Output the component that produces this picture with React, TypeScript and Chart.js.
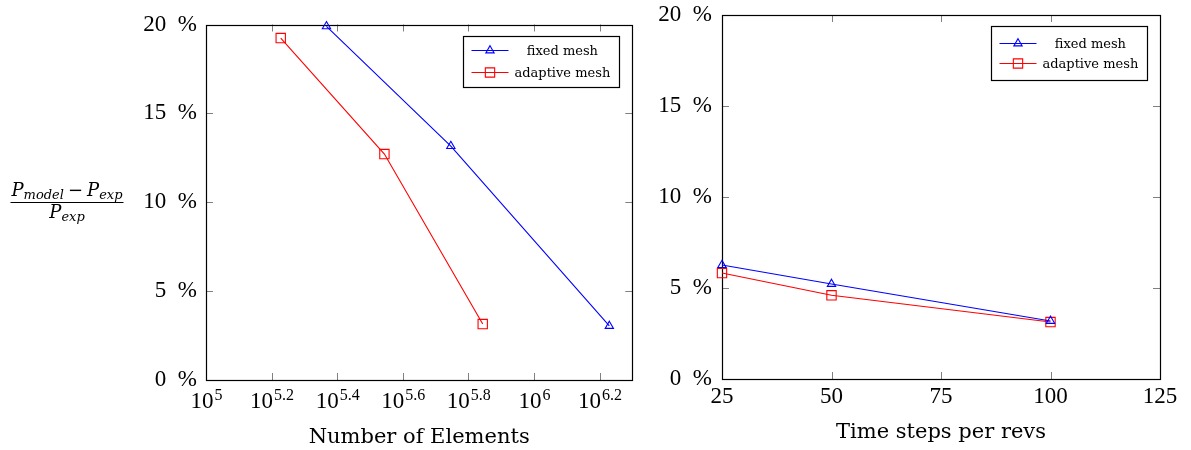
import React, { useEffect, useRef } from 'react';
import { Chart, registerables } from 'chart.js';

Chart.register(...registerables);

// ---------------- data ----------------
const seriesLabels = ['fixed mesh', 'adaptive mesh'];
const xTitles = ['Number of Elements', 'Time steps per revs'];

// left chart: error vs number of elements (log x axis)
const elementTickExponents = [5, 5.2, 5.4, 5.6, 5.8, 6, 6.2];
const elementTickLabels = ['5', '5.2', '5.4', '5.6', '5.8', '6', '6.2'];
const fixedMeshElements = [233000, 558000, 1698000];
const fixedMeshElementErrors = [19.9, 13.16, 3.04];
const adaptiveMeshElements = [169000, 350000, 698000];
const adaptiveMeshElementErrors = [19.24, 12.71, 3.15];

// right chart: error vs time steps per revolution
const timeSteps = [25, 50, 100];
const fixedMeshTimeErrors = [6.26, 5.22, 3.19];
const adaptiveMeshTimeErrors = [5.82, 4.6, 3.13];
const timeTicks = [25, 50, 75, 100, 125];

const errorTicks = [0, 5, 10, 15, 20];

// ---------------- style ----------------
const SERIF = '"DejaVu Serif", "Liberation Serif", serif';
const NUM = '"Liberation Serif", "DejaVu Serif", serif';
const BLUE = '#0000ff';
const RED = '#ff0000';
const CLEAR = 'rgba(0,0,0,0)';

function drawMarker(ctx: CanvasRenderingContext2D, style: string, x: number, y: number, r: number) {
  ctx.beginPath();
  if (style === 'triangle') {
    const s = Math.sin((2 * Math.PI) / 3) * r;
    ctx.moveTo(x, y - r);
    ctx.lineTo(x + s, y + r / 2);
    ctx.lineTo(x - s, y + r / 2);
    ctx.closePath();
  } else {
    const s = r * Math.SQRT1_2;
    ctx.rect(x - s, y - s, 2 * s, 2 * s);
  }
  ctx.stroke();
}

const frameAndTicks = {
  id: 'frameAndTicks',
  beforeDatasetsDraw(chart: any) {
    const { ctx, chartArea: a, scales } = chart;
    const L = 7;
    ctx.save();
    ctx.strokeStyle = '#808080';
    ctx.lineWidth = 1;
    ctx.beginPath();
    scales.x.ticks.forEach((t: any) => {
      const p = Math.round(scales.x.getPixelForValue(t.value)) + 0.5;
      if (p <= a.left + 2 || p >= a.right - 2) return;
      ctx.moveTo(p, a.bottom);
      ctx.lineTo(p, a.bottom - L);
      ctx.moveTo(p, a.top);
      ctx.lineTo(p, a.top + L);
    });
    scales.y.ticks.forEach((t: any) => {
      const p = Math.round(scales.y.getPixelForValue(t.value)) + 0.5;
      if (p <= a.top + 2 || p >= a.bottom - 2) return;
      ctx.moveTo(a.left, p);
      ctx.lineTo(a.left + L, p);
      ctx.moveTo(a.right, p);
      ctx.lineTo(a.right - L, p);
    });
    ctx.stroke();
    ctx.strokeStyle = '#000';
    ctx.lineWidth = 1.2;
    const l = Math.round(a.left) + 0.5;
    const t = Math.round(a.top) + 0.5;
    ctx.strokeRect(l, t, Math.round(a.right) - Math.round(a.left), Math.round(a.bottom) - Math.round(a.top));
    ctx.restore();
  },
};

const boxLegend = {
  id: 'boxLegend',
  afterDatasetsDraw(chart: any, _args: any, opts: any) {
    const { ctx, chartArea: a } = chart;
    const ds = chart.data.datasets;
    ctx.save();
    ctx.font = `13px ${SERIF}`;
    const textW = Math.max(...ds.map((d: any) => ctx.measureText(d.label).width));
    const padL = 8, sample = 37, gap = 6, padR = 9;
    const w = padL + sample + gap + textW + padR;
    const h = opts.first + opts.gap * (ds.length - 1) + opts.bottom;
    const right = Math.round(a.right - opts.right) + 0.5;
    const x0 = right - Math.round(w);
    const y0 = Math.round(a.top + opts.top) + 0.5;
    ctx.fillStyle = '#fff';
    ctx.fillRect(x0, y0, right - x0, h);
    ctx.strokeStyle = '#000';
    ctx.lineWidth = 1.2;
    ctx.strokeRect(x0, y0, right - x0, h);
    ds.forEach((d: any, i: number) => {
      const y = y0 + opts.first + i * opts.gap;
      ctx.strokeStyle = d.borderColor;
      ctx.lineWidth = 1.1;
      ctx.beginPath();
      ctx.moveTo(x0 + padL, y);
      ctx.lineTo(x0 + padL + sample, y);
      ctx.stroke();
      drawMarker(ctx, d.pointStyle, x0 + padL + sample / 2, y, d.pointRadius);
      ctx.fillStyle = '#000';
      ctx.textAlign = 'center';
      ctx.textBaseline = 'middle';
      ctx.fillText(d.label, x0 + padL + sample + gap + textW / 2, y + 1);
    });
    ctx.restore();
  },
};

const powerTickLabels = {
  id: 'powerTickLabels',
  afterDraw(chart: any) {
    const { ctx, chartArea: a, scales } = chart;
    ctx.save();
    ctx.fillStyle = '#000';
    ctx.textBaseline = 'alphabetic';
    ctx.textAlign = 'left';
    const base = a.bottom + 28;
    scales.x.ticks.forEach((t: any, i: number) => {
      const exp = elementTickLabels[i];
      const px = scales.x.getPixelForValue(t.value);
      ctx.font = `23px ${NUM}`;
      const bw = ctx.measureText('10').width;
      ctx.font = `16px ${NUM}`;
      const ew = ctx.measureText(exp).width;
      const x0 = px - (bw + ew) / 2;
      ctx.font = `23px ${NUM}`;
      ctx.fillText('10', x0, base);
      ctx.font = `16px ${NUM}`;
      ctx.fillText(exp, x0 + bw + 1, base - 8);
    });
    ctx.restore();
  },
};

const fractionTitle = {
  id: 'fractionTitle',
  afterDraw(chart: any) {
    const ctx = chart.ctx;
    const big = `italic 18px ${SERIF}`;
    const small = `italic 13px ${SERIF}`;
    const op = `18px ${SERIF}`;
    const num = [
      { t: 'P', f: big, dy: 0, sp: 0 },
      { t: 'model', f: small, dy: 3, sp: 4 },
      { t: '\u2212', f: op, dy: 0, sp: 4 },
      { t: 'P', f: big, dy: 0, sp: 0 },
      { t: 'exp', f: small, dy: 3, sp: 0 },
    ];
    const den = [
      { t: 'P', f: big, dy: 0, sp: 0 },
      { t: 'exp', f: small, dy: 3, sp: 0 },
    ];
    const cx = 67;
    const drawRow = (parts: any[], baseline: number) => {
      let total = 0;
      parts.forEach((p) => {
        ctx.font = p.f;
        p.w = ctx.measureText(p.t).width;
        total += p.w + p.sp;
      });
      let x = cx - total / 2;
      parts.forEach((p) => {
        ctx.font = p.f;
        ctx.fillText(p.t, x, baseline + p.dy);
        x += p.w + p.sp;
      });
      return total;
    };
    ctx.save();
    ctx.fillStyle = '#000';
    ctx.textAlign = 'left';
    ctx.textBaseline = 'alphabetic';
    const w = drawRow(num, 196);
    drawRow(den, 218);
    ctx.strokeStyle = '#000';
    ctx.lineWidth = 1;
    ctx.beginPath();
    ctx.moveTo(cx - w / 2 - 1, 202.5);
    ctx.lineTo(cx + w / 2 + 1, 202.5);
    ctx.stroke();
    ctx.restore();
  },
};

function series(label: string, xs: number[], ys: number[], color: string, style: string, r: number) {
  return {
    label,
    data: xs.map((x, i) => ({ x, y: ys[i] })),
    borderColor: color,
    backgroundColor: CLEAR,
    borderWidth: 1.1,
    pointStyle: style,
    pointRadius: r,
    pointBorderColor: color,
    pointBackgroundColor: CLEAR,
    pointBorderWidth: 1.1,
    tension: 0,
    clip: false,
  };
}

const yAxis = (width: number, pad: number) => ({
  type: 'linear',
  min: 0,
  max: 20,
  afterBuildTicks: (s: any) => {
    s.ticks = errorTicks.map((v) => ({ value: v }));
  },
  ticks: {
    callback: (v: any) => `${v}\u2002%`,
    font: { family: NUM, size: 23 },
    color: '#000',
    padding: pad,
  },
  grid: { display: false, drawTicks: false },
  border: { display: false },
  afterFit: (s: any) => {
    s.width = width;
    s.paddingTop = 0;
    s.paddingBottom = 0;
  },
});

function xFit(height: number) {
  return (s: any) => {
    s.height = height;
    s.paddingLeft = 0;
    s.paddingRight = 0;
  };
}

function leftConfig(): any {
  return {
    type: 'line',
    data: {
      datasets: [
        series(seriesLabels[0], fixedMeshElements, fixedMeshElementErrors, BLUE, 'triangle', 4.8),
        series(seriesLabels[1], adaptiveMeshElements, adaptiveMeshElementErrors, RED, 'rect', 6.6),
      ],
    },
    options: {
      responsive: false,
      animation: false,
      devicePixelRatio: 1,
      layout: { padding: { left: 0, right: 6, top: 24.5, bottom: 0 } },
      plugins: {
        legend: { display: false },
        tooltip: { enabled: false },
        boxLegend: { right: 13, top: 11.5, first: 14, gap: 22, bottom: 15 },
      },
      scales: {
        x: {
          type: 'logarithmic',
          min: 1e5,
          max: Math.pow(10, 6.3),
          afterBuildTicks: (s: any) => {
            s.ticks = elementTickExponents.map((e) => ({ value: Math.pow(10, e) }));
          },
          ticks: { display: false },
          grid: { display: false, drawTicks: false },
          border: { display: false },
          afterFit: xFit(70),
          title: {
            display: true,
            text: xTitles[0],
            font: { family: SERIF, size: 21 },
            color: '#000',
            padding: { top: 0, bottom: 0 },
          },
        },
        y: yAxis(206, 9),
      },
    },
    plugins: [frameAndTicks, boxLegend, powerTickLabels, fractionTitle],
  };
}

function rightConfig(): any {
  return {
    type: 'line',
    data: {
      datasets: [
        series(seriesLabels[0], timeSteps, fixedMeshTimeErrors, BLUE, 'triangle', 4.8),
        series(seriesLabels[1], timeSteps, adaptiveMeshTimeErrors, RED, 'rect', 6.6),
      ],
    },
    options: {
      responsive: false,
      animation: false,
      devicePixelRatio: 1,
      layout: { padding: { left: 0, right: 31, top: 15, bottom: 0 } },
      plugins: {
        legend: { display: false },
        tooltip: { enabled: false },
        boxLegend: { right: 13, top: 11, first: 17, gap: 20, bottom: 17 },
      },
      scales: {
        x: {
          type: 'linear',
          min: 25,
          max: 125,
          afterBuildTicks: (s: any) => {
            s.ticks = timeTicks.map((v) => ({ value: v }));
          },
          ticks: { font: { family: NUM, size: 23 }, color: '#000', padding: 4, maxRotation: 0 },
          grid: { display: false, drawTicks: false },
          border: { display: false },
          afterFit: xFit(71),
          title: {
            display: true,
            text: xTitles[1],
            font: { family: SERIF, size: 21 },
            color: '#000',
            padding: { top: 0, bottom: 5 },
          },
        },
        y: yAxis(82, 10),
      },
    },
    plugins: [frameAndTicks, boxLegend],
  };
}

export default function App() {
  const leftRef = useRef<HTMLCanvasElement>(null);
  const rightRef = useRef<HTMLCanvasElement>(null);
  useEffect(() => {
    const c1 = new Chart(leftRef.current as HTMLCanvasElement, leftConfig());
    const c2 = new Chart(rightRef.current as HTMLCanvasElement, rightConfig());
    return () => {
      c1.destroy();
      c2.destroy();
    };
  }, []);
  return (
    <div style={{ position: 'absolute', left: 0, top: 0, width: 1191, height: 450, background: '#fff' }}>
      <canvas
        ref={leftRef}
        width={640}
        height={450}
        style={{ position: 'absolute', left: 0, top: 0, width: 640, height: 450 }}
      />
      <canvas
        ref={rightRef}
        width={551}
        height={450}
        style={{ position: 'absolute', left: 640, top: 0, width: 551, height: 450 }}
      />
    </div>
  );
}
